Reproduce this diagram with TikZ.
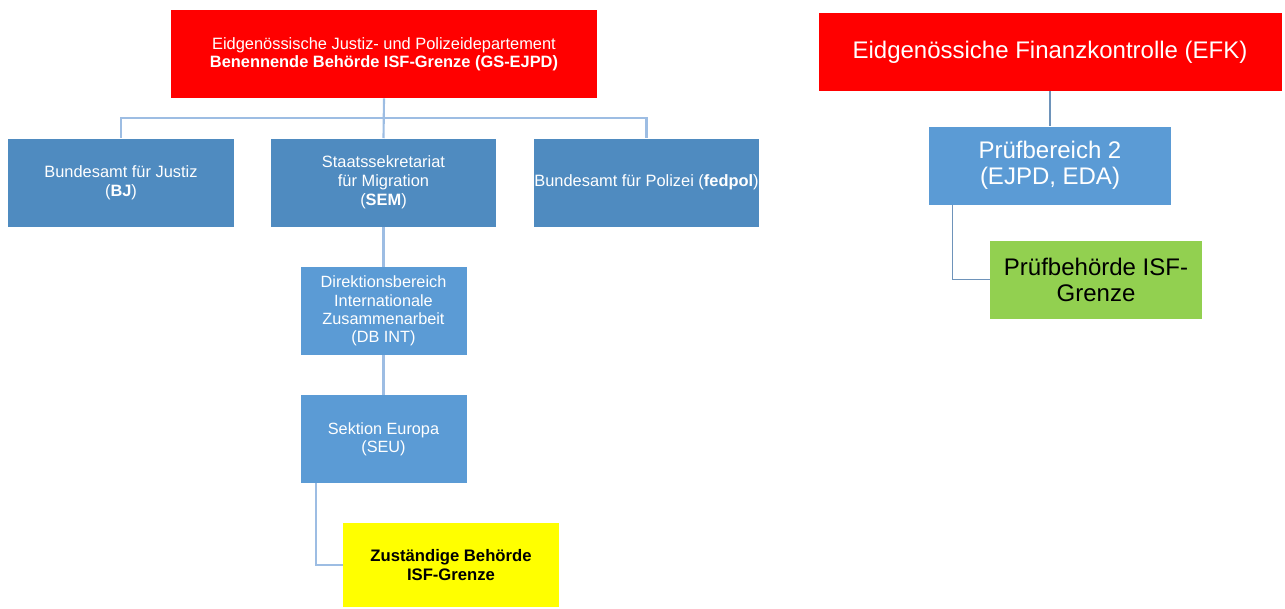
\documentclass[tikz,border=0pt]{standalone}
\usepackage{fontspec}
\setmainfont{Liberation Sans}
\usepackage{xcolor}
\usetikzlibrary{calc}
\definecolor{alarmRed}{HTML}{FF0000}
\definecolor{unitBlue}{HTML}{4F8BC0}
\definecolor{subBlue}{HTML}{5B9BD5}
\definecolor{lineBlue}{HTML}{9DBDE3}
\definecolor{lineGrey}{HTML}{6E93BA}
\definecolor{tagYellow}{HTML}{FFFF00}
\definecolor{tagGreen}{HTML}{92D050}
\tikzset{
  box/.style={rectangle, inner sep=0pt, align=center, text=white},
  topBox/.style={box, fill=alarmRed},
  unitBox/.style={box, fill=unitBlue, minimum width=225\pxu, minimum height=88\pxu,
    font=\fontsize{12.3}{14.3}\selectfont},
  subBox/.style={box, fill=subBlue, minimum width=166\pxu, minimum height=88\pxu,
    font=\fontsize{12.2}{13.8}\selectfont},
  tagBox/.style={box, text=black},
  conn/.style={draw=lineBlue, line width=1.6pt},
  connR/.style={draw=lineGrey, line width=0.9pt}
}
\newcommand{\pxu}{pt*0.75}
\begin{document}
\begin{tikzpicture}[x=0.75pt, y=-0.75pt]
  \useasboundingbox (0,0) rectangle (1285,608);

  \node[topBox, minimum width=426\pxu, minimum height=88\pxu,
    font=\fontsize{12.3}{13.5}\selectfont] (gs) at (384,54)
    {Eidgenössische Justiz- und Polizeidepartement\\
     \textbf{Benennende Behörde ISF-Grenze (GS-EJPD)}};

  \node[unitBox, minimum width=226\pxu] (bj) at (121,182.5) {Bundesamt für Justiz\\(\textbf{BJ})};
  \node[unitBox] (sem) at (383.5,182.5) {Staatssekretariat\\für Migration\\(\textbf{SEM})};
  \node[unitBox] (fedpol) at (646.5,182.5) {Bundesamt für Polizei (\textbf{fedpol})};

  \node[subBox] (dbint) at (383.5,311) {Direktionsbereich\\Internationale\\Zusammenarbeit\\(DB INT)};
  \node[subBox] (seu) at (383.5,439) {Sektion Europa\\(SEU)};

  \node[tagBox, fill=tagYellow, minimum width=216\pxu, minimum height=84\pxu,
    font=\fontsize{12.5}{13.8}\selectfont\bfseries] (zb) at (451,565)
    {Zuständige Behörde\\ISF-Grenze};

  \coordinate (bus) at (384,118);
  \draw[conn] (gs.south) -- (sem.north);
  \draw[conn] (bj.north) |- (bus) -| (fedpol.north);
  \draw[conn] (sem.south) -- (dbint.north);
  \draw[conn] (dbint.south) -- (seu.north);
  \draw[conn] ([xshift=16\pxu]seu.south west) |- (zb.west);

  \node[topBox, minimum width=463\pxu, minimum height=78\pxu,
    font=\fontsize{18}{20}\selectfont] (efk) at (1050,52)
    {Eidgenössiche Finanzkontrolle (EFK)};
  \node[box, fill=subBlue, minimum width=242\pxu, minimum height=78\pxu,
    font=\fontsize{18}{19.5}\selectfont] (pb) at (1050,165.5)
    {Prüfbereich 2\\(EJPD, EDA)};
  \node[tagBox, fill=tagGreen, minimum width=212\pxu, minimum height=78\pxu,
    font=\fontsize{18}{19.5}\selectfont] (pbh) at (1096,279.5)
    {Prüfbehörde ISF-\\Grenze};

  \draw[connR] (efk.south) -- (pb.north);
  \draw[connR] ([xshift=24\pxu]pb.south west) |- (pbh.west);
\end{tikzpicture}
\end{document}
